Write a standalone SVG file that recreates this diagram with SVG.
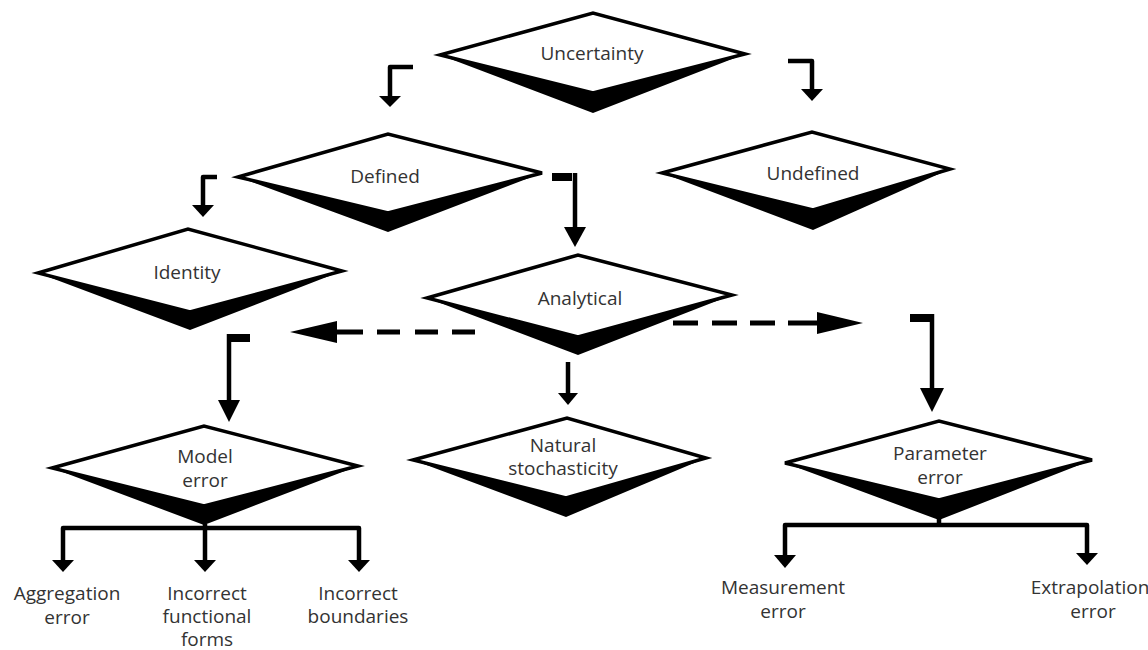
<svg xmlns="http://www.w3.org/2000/svg" width="1148" height="650" viewBox="0 0 1148 650">
<style>
.bg{fill:#ffffff}
.dia{fill:#ffffff;stroke:#000;stroke-width:3.5;stroke-linejoin:miter}
.sh{fill:#000}
.t{font-family:"Open Sans","Liberation Sans",sans-serif;font-size:19px;fill:#333;text-anchor:middle}
.ln{fill:none;stroke:#000;stroke-width:4.5;stroke-linejoin:round}
.stub{fill:none;stroke:#000;stroke-width:8}
.dash{fill:none;stroke:#000;stroke-width:5}
.hd{fill:#000}
</style>
<rect class="bg" x="0" y="0" width="1148" height="650"/>
<g id="uncertainty">
<polygon class="sh" points="440,55 593,113 745,54 593,93"/>
<polygon class="dia" points="440,55 593,13 745,54 593,93"/>
<text class="t" x="592" y="60">Uncertainty</text>
</g>
<g id="defined">
<polygon class="sh" points="238,177 388,232 542,173 388,213"/>
<polygon class="dia" points="238,177 388,134 542,173 388,213"/>
<text class="t" x="385" y="183">Defined</text>
</g>
<g id="undefined">
<polygon class="sh" points="662,173 813,230 950,169 813,210"/>
<polygon class="dia" points="662,173 812,132 950,169 813,210"/>
<text class="t" x="813" y="180">Undefined</text>
</g>
<g id="identity">
<polygon class="sh" points="38,273 190,330 342,271 190,312"/>
<polygon class="dia" points="38,273 188,229 342,271 190,312"/>
<text class="t" x="187" y="279">Identity</text>
</g>
<g id="analytical">
<polygon class="sh" points="427,298 578,355 732,295 578,337"/>
<polygon class="dia" points="427,298 578,255 732,295 578,337"/>
<text class="t" x="580" y="305">Analytical</text>
</g>
<g id="natural">
<polygon class="sh" points="413,460 566,517 706,458 566,498"/>
<polygon class="dia" points="413,460 567,418 706,458 566,498"/>
<text class="t" x="563" y="452">Natural</text>
<text class="t" x="563" y="475">stochasticity</text>
</g>
<g id="model-error">
<polygon class="sh" points="52,468 204,525 358,466 204,506"/>
<polygon class="dia" points="52,468 204,426 358,466 204,506"/>
<text class="t" x="205" y="463">Model</text>
<text class="t" x="205" y="487">error</text>
</g>
<g id="parameter-error">
<polygon class="sh" points="785,463 939,520 1092,460 939,500"/>
<polygon class="dia" points="785,463 939,421 1092,460 939,500"/>
<text class="t" x="940" y="460">Parameter</text>
<text class="t" x="940" y="484">error</text>
</g>
<g id="aggregation-error">
<text class="t" x="67" y="600">Aggregation</text>
<text class="t" x="67" y="624">error</text>
</g>
<g id="incorrect-functional-forms">
<text class="t" x="207" y="600">Incorrect</text>
<text class="t" x="207" y="623">functional</text>
<text class="t" x="207" y="646">forms</text>
</g>
<g id="incorrect-boundaries">
<text class="t" x="358" y="600">Incorrect</text>
<text class="t" x="358" y="623">boundaries</text>
</g>
<g id="measurement-error">
<text class="t" x="783" y="594">Measurement</text>
<text class="t" x="783" y="618">error</text>
</g>
<g id="extrapolation-error">
<text class="t" x="1090" y="594">Extrapolation</text>
<text class="t" x="1093" y="618">error</text>
</g>
<g id="connectors">
<path class="ln" d="M413,67 H390 V97"/>
<polygon class="hd" points="379,96 401,96 390,107"/>
<path class="ln" d="M788,61 H812 V90"/>
<polygon class="hd" points="801,89 823,89 812,101"/>
<path class="ln" d="M217,177 H203 V206"/>
<polygon class="hd" points="192,205 214,205 203,217"/>
<path class="stub" d="M552,177 H572"/>
<path class="ln" d="M575,173 V228"/>
<polygon class="hd" points="564,227 586,227 575,247"/>
<path class="ln" d="M568,362 V394"/>
<polygon class="hd" points="558,393 578,393 568,405"/>
<path class="dash" d="M475,332 H452 M438,332 H415 M400,332 H377 M363,332 H335"/>
<polygon class="hd" points="290,332 337,321 337,343"/>
<path class="dash" d="M673,323 H698 M712,323 H737 M750,323 H775 M788,323 H819"/>
<polygon class="hd" points="863,323 817,312 817,334"/>
<path class="stub" d="M250,338 H227"/>
<path class="ln" d="M229,334 V401"/>
<polygon class="hd" points="218,400 240,400 229,422"/>
<path class="stub" d="M910,318 H930"/>
<path class="ln" d="M932,314 V389"/>
<polygon class="hd" points="920,388 944,388 932,412"/>
<path class="ln" d="M63,561 V528 H359 V561 M205,524 V561"/>
<polygon class="hd" points="52,560 74,560 63,572"/>
<polygon class="hd" points="194,560 216,560 205,572"/>
<polygon class="hd" points="348,560 370,560 359,572"/>
<path class="ln" d="M785,556 V525 H1087 V554 M939,518 V525"/>
<polygon class="hd" points="774,555 796,555 785,568"/>
<polygon class="hd" points="1076,553 1098,553 1087,565"/>
</g>
</svg>
